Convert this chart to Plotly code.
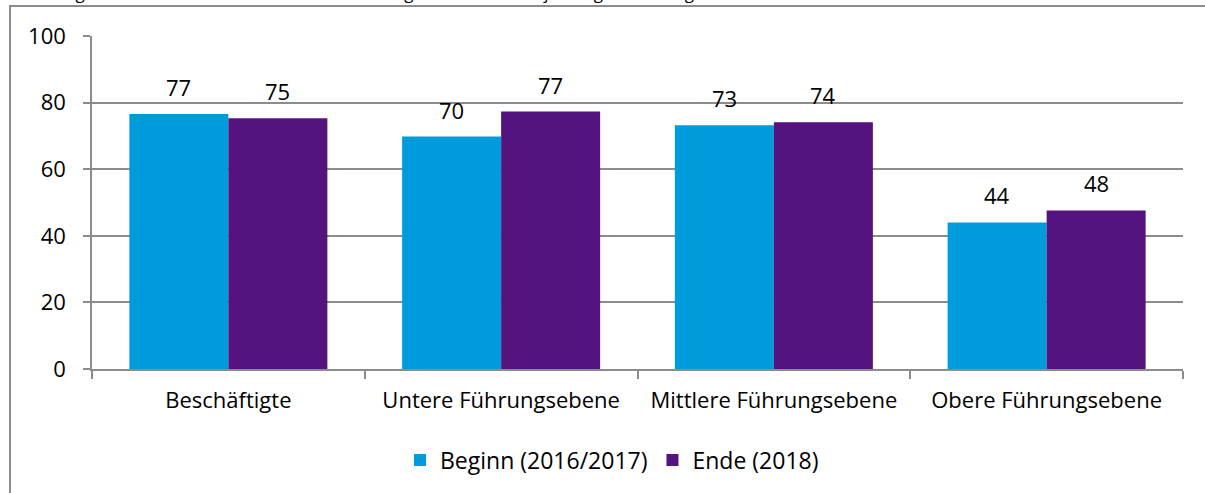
import plotly.graph_objects as go

categories = ["Beschäftigte", "Untere Führungsebene", "Mittlere Führungsebene", "Obere Führungsebene"]
beginn = [76.6, 69.8, 73.2, 44.0]
ende = [75.3, 77.3, 74.1, 47.6]
series_names = ["Beginn (2016/2017)", "Ende (2018)"]
y_ticks = [0, 20, 40, 60, 80, 100]
title_text = "Abbildung 6: Frauenanteil an den Gesamtbeschäftigten und auf den jeweiligen Führungsebenen"

W, H = 1205, 493
L, R, T, B = 92, 22, 36, 124
pw, ph = W - L - R, H - T - B

def px_x(px):
    return (px - L) / pw

def px_y(py):
    return (H - B - py) / ph

FONT = "Open Sans"
BLUE = "#009BDB"
PURPLE = "#55137F"
GRID = "#8C8C8C"

fig = go.Figure()
fig.add_trace(go.Bar(x=categories, y=beginn, name=series_names[0], marker_color=BLUE,
                     marker_line_width=0))
fig.add_trace(go.Bar(x=categories, y=ende, name=series_names[1], marker_color=PURPLE,
                     marker_line_width=0))

bargap = 0.274
bar_w = pw / len(categories) * (1 - bargap) / 2
annotations = []
for vals, sh in ((beginn, -bar_w / 2), (ende, bar_w / 2)):
    for c, v in zip(categories, vals):
        annotations.append(dict(x=c, y=v, xref="x", yref="y", text=f"{v:.0f}", showarrow=False,
                                xshift=sh, yshift=27, yanchor="middle",
                                font=dict(family=FONT, size=22, color="#000000")))

annotations.append(dict(x=px_x(2), y=px_y(-8), xref="paper", yref="paper", text=title_text,
                        showarrow=False, xanchor="left", yanchor="middle",
                        font=dict(family=FONT, size=17, color="#000000")))

fig.update_layout(
    width=W, height=H,
    margin=dict(l=L, r=R, t=T, b=B, pad=0),
    paper_bgcolor="white", plot_bgcolor="white",
    barmode="group", bargap=bargap, bargroupgap=0,
    font=dict(family=FONT, size=22, color="#000000"),
    legend=dict(orientation="h", x=px_x(612), xanchor="center", y=px_y(460), yanchor="middle",
                font=dict(family=FONT, size=23, color="#000000"), itemwidth=30,
                bgcolor="rgba(0,0,0,0)"),
    annotations=annotations,
    shapes=[dict(type="rect", xref="paper", yref="paper",
                 x0=px_x(10), x1=px_x(1215), y0=px_y(6), y1=px_y(510),
                 line=dict(color=GRID, width=2), layer="below")],
)
fig.update_xaxes(showline=True, linecolor=GRID, linewidth=1.5, ticks="outside", ticklen=8,
                 tickcolor=GRID, tickwidth=1.5, tickson="boundaries", showgrid=False,
                 ticklabelstandoff=11, tickfont=dict(family=FONT, size=22, color="#000000"))
fig.update_yaxes(range=[0, 100], tickvals=y_ticks, showline=True, linecolor=GRID, linewidth=1.5,
                 ticks="outside", ticklen=7, tickcolor=GRID, tickwidth=1.5,
                 showgrid=True, gridcolor=GRID, gridwidth=1.5, zeroline=False,
                 ticklabelstandoff=13, tickfont=dict(family=FONT, size=22, color="#000000"))

fig.write_html("out.html", config={"displayModeBar": False},
               post_script="document.body.style.margin='0';")
